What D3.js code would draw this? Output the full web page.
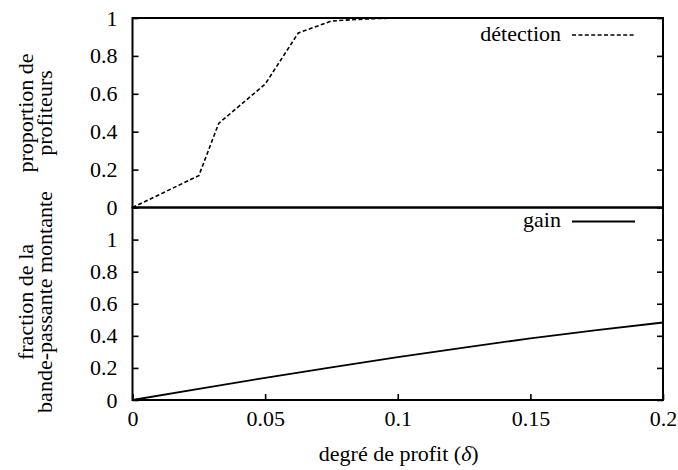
<!DOCTYPE html>
<html>
<head>
<meta charset="utf-8">
<script src="https://cdn.jsdelivr.net/npm/d3@7"></script>
<style>
  html, body { margin: 0; padding: 0; background: #fff; }
  svg { display: block; }
  svg text { font-family: "Liberation Serif", "Times New Roman", Tinos, Times; font-size: 22px; fill: #000; }
</style>
</head>
<body>
<svg id="chart" width="678" height="470"></svg>
<script>
// ---- data ----
const xTicks = [0, 0.05, 0.1, 0.15, 0.2];
const xTickLabels = ["0", "0.05", "0.1", "0.15", "0.2"];
const yTicks = [0, 0.2, 0.4, 0.6, 0.8, 1];
const yTickLabels = ["0", "0.2", "0.4", "0.6", "0.8", "1"];

const detectionX = [0, 0.025, 0.0325, 0.05, 0.0625, 0.075, 0.0875, 0.1, 0.2];
const detectionY = [0, 0.168, 0.444, 0.651, 0.921, 0.984, 0.995, 1, 1];

const gainX = [0, 0.025, 0.05, 0.075, 0.1, 0.125, 0.15, 0.175, 0.2];
const gainY = [0, 0.07, 0.138, 0.204, 0.267, 0.327, 0.384, 0.436, 0.483];

const seriesNames = ["détection", "gain"];
const topYLabel = ["proportion de", "profiteurs"];
const bottomYLabel = ["fraction de la", "bande-passante montante"];
const xLabelMain = "degré de profit (";
const xLabelSym = "δ";
const xLabelEnd = ")";

// ---- layout ----
const FONT = '"Liberation Serif", "Times New Roman", Tinos, Times';
const L = 132.5, R = 663, T = 18, M = 207.5, B = 400;
const svg = d3.select("#chart");

const x = d3.scaleLinear().domain([0, 0.2]).range([L, R]);
const yTop = d3.scaleLinear().domain([0, 1]).range([M, T]);
const yBot = d3.scaleLinear().domain([0, 1.2]).range([B, M]);

function styleAxis(g) {
  g.attr("font-family", FONT).attr("font-size", 22);
  g.select(".domain").remove();
  g.selectAll(".tick line").attr("stroke", "#000").attr("stroke-width", 1.6);
  g.selectAll(".tick text").attr("fill", "#000").attr("font-family", FONT);
}

const fmtY = (d) => yTickLabels[yTicks.indexOf(d)];

// top panel axes
svg.append("g").attr("transform", `translate(${L},0)`)
  .call(d3.axisLeft(yTop).tickValues(yTicks).tickSizeInner(-6).tickSizeOuter(0).tickPadding(15).tickFormat(fmtY))
  .call(styleAxis);
svg.append("g").attr("transform", `translate(${R},0)`)
  .call(d3.axisRight(yTop).tickValues(yTicks).tickSizeInner(-6).tickSizeOuter(0).tickFormat(""))
  .call(styleAxis);

// bottom panel axes
svg.append("g").attr("transform", `translate(${L},0)`)
  .call(d3.axisLeft(yBot).tickValues(yTicks).tickSizeInner(-6).tickSizeOuter(0).tickPadding(15).tickFormat(fmtY))
  .call(styleAxis);
svg.append("g").attr("transform", `translate(${R},0)`)
  .call(d3.axisRight(yBot).tickValues(yTicks).tickSizeInner(-6).tickSizeOuter(0).tickFormat(""))
  .call(styleAxis);
svg.append("g").attr("transform", `translate(0,${B})`)
  .call(d3.axisBottom(x).tickValues(xTicks).tickSizeInner(-6).tickSizeOuter(0).tickPadding(10)
    .tickFormat((d) => xTickLabels[xTicks.indexOf(d)]))
  .call(styleAxis);

// frames
svg.append("rect").attr("x", L).attr("y", T).attr("width", R - L).attr("height", M - T)
  .attr("fill", "none").attr("stroke", "#000").attr("stroke-width", 2);
svg.append("rect").attr("x", L).attr("y", M).attr("width", R - L).attr("height", B - M)
  .attr("fill", "none").attr("stroke", "#000").attr("stroke-width", 2);

// lines
const detData = detectionX.map((v, i) => [v, detectionY[i]]);
const gainData = gainX.map((v, i) => [v, gainY[i]]);

svg.append("path").datum(detData)
  .attr("d", d3.line().x(d => x(d[0])).y(d => yTop(d[1])))
  .attr("fill", "none").attr("stroke", "#000").attr("stroke-width", 1.6)
  .attr("stroke-dasharray", "4,2.4");

svg.append("path").datum(gainData)
  .attr("d", d3.line().x(d => x(d[0])).y(d => yBot(d[1])))
  .attr("fill", "none").attr("stroke", "#000").attr("stroke-width", 1.8);

// legends
const legX1 = 572, legX2 = 635, legTextX = 561;
svg.append("text").attr("x", legTextX).attr("y", 41).attr("text-anchor", "end").text(seriesNames[0]);
svg.append("line").attr("x1", legX1).attr("x2", legX2).attr("y1", 35).attr("y2", 35)
  .attr("stroke", "#000").attr("stroke-width", 1.6).attr("stroke-dasharray", "4,2.4");
svg.append("text").attr("x", legTextX).attr("y", 227).attr("text-anchor", "end").text(seriesNames[1]);
svg.append("line").attr("x1", legX1).attr("x2", legX2).attr("y1", 221.5).attr("y2", 221.5)
  .attr("stroke", "#000").attr("stroke-width", 1.8);

// y labels
function yLabel(lines, cy) {
  const xs = [33, 52];
  lines.forEach((t, i) => {
    svg.append("text")
      .attr("transform", `translate(${xs[i]},${cy}) rotate(-90)`)
      .attr("text-anchor", "middle").text(t);
  });
}
yLabel(topYLabel, 113);
yLabel(bottomYLabel, 302);

// x label
const xl = svg.append("text").attr("x", (L + R) / 2 + 1).attr("y", 461).attr("text-anchor", "middle");
xl.append("tspan").text(xLabelMain);
xl.append("tspan").style("font-style", "italic").text(xLabelSym);
xl.append("tspan").text(xLabelEnd);
</script>
</body>
</html>
